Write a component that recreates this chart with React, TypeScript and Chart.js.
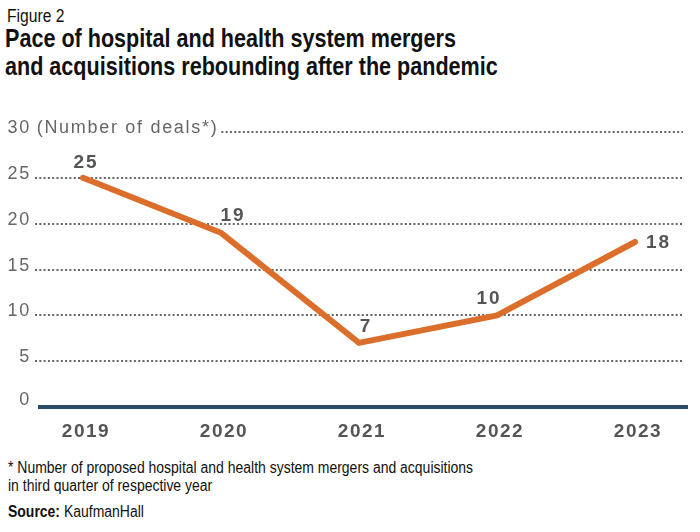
import React, { useEffect, useRef } from "react";
import { Chart, registerables } from "chart.js";

Chart.register(...registerables);

// ---- data ----
const years = ["2019", "2020", "2021", "2022", "2023"];
const deals = [25, 19, 7, 10, 18];
const yTicks = [0, 5, 10, 15, 20, 25, 30];
const yAxisNote = "(Number of deals*)";

// ---- label styling (offsets from each point, not data) ----
const labelStyle: [number, number, CanvasTextAlign][] = [
  [3, -10, "center"],
  [12, -12, "center"],
  [7, -11, "center"],
  [-8, -11, "center"],
  [11, 6, "left"],
];

const WIDE = '"Liberation Sans", Arial, Helvetica, sans-serif';

const gridPlugin = {
  id: "customGrid",
  beforeDraw(chart: any) {
    chart.ctx.letterSpacing = "1.5px";
  },
  beforeDatasetsDraw(chart: any) {
    const { ctx, scales } = chart;
    const y = scales.y;
    ctx.save();
    ctx.font = `18px ${WIDE}`;
    ctx.letterSpacing = "1.7px";
    ctx.textBaseline = "alphabetic";
    yTicks.forEach((t) => {
      const py = Math.round(y.getPixelForValue(t));
      ctx.fillStyle = "#666";
      ctx.textAlign = "right";
      const base = t === 0 ? py - 2 : py + 1;
      ctx.fillText(String(t), 31, base);
      let startX = 35;
      if (t === yTicks[yTicks.length - 1]) {
        ctx.textAlign = "left";
        const s = " " + yAxisNote;
        ctx.fillText(s, 30, base);
        startX = 30 + ctx.measureText(s).width + 3;
      }
      ctx.beginPath();
      if (t === 0) {
        ctx.setLineDash([]);
        ctx.lineWidth = 4;
        ctx.strokeStyle = "#2a4a6b";
        ctx.moveTo(38, py);
        ctx.lineTo(688, py);
      } else {
        ctx.setLineDash([2, 2.3]);
        ctx.lineWidth = 2;
        ctx.strokeStyle = "#666";
        ctx.moveTo(startX, py);
        ctx.lineTo(683, py);
      }
      ctx.stroke();
    });
    ctx.restore();
  },
  afterDatasetsDraw(chart: any) {
    const { ctx } = chart;
    const meta = chart.getDatasetMeta(0);
    ctx.save();
    ctx.font = `bold 19px ${WIDE}`;
    ctx.letterSpacing = "2px";
    ctx.fillStyle = "#555";
    ctx.textBaseline = "alphabetic";
    meta.data.forEach((pt: any, i: number) => {
      const [dx, dy, align] = labelStyle[i];
      ctx.textAlign = align;
      ctx.fillText(String(deals[i]), pt.x + dx, pt.y + dy);
    });
    ctx.restore();
  },
  afterDraw(chart: any) {
    chart.ctx.letterSpacing = "0px";
  },
};

function LineChart() {
  const ref = useRef<HTMLCanvasElement | null>(null);
  useEffect(() => {
    if (!ref.current) return;
    const chart = new Chart(ref.current, {
      type: "line",
      data: {
        labels: years,
        datasets: [
          {
            data: deals,
            borderColor: "#dc6e2c",
            borderWidth: 6,
            pointRadius: 0,
            pointHoverRadius: 0,
            tension: 0,
            borderCapStyle: "round",
            borderJoinStyle: "miter",
            clip: false as any,
          },
        ],
      },
      options: {
        animation: false,
        responsive: false,
        maintainAspectRatio: false,
        events: [],
        layout: { padding: { top: 32, left: 83, right: 65, bottom: 0 } },
        plugins: {
          legend: { display: false },
          tooltip: { enabled: false },
          title: { display: false },
        },
        scales: {
          x: {
            type: "category",
            offset: false,
            grid: { display: false, drawTicks: false },
            border: { display: false },
            ticks: {
              color: "#555",
              padding: 13,
              labelOffset: 3,
              font: { family: WIDE, size: 19, weight: "bold" },
              maxRotation: 0,
              autoSkip: false,
            },
            afterFit: (s: any) => {
              s.height = 43;
            },
          },
          y: {
            display: false,
            min: 0,
            max: 30,
          },
        },
      },
      plugins: [gridPlugin],
    });
    return () => chart.destroy();
  }, []);
  return (
    <canvas
      ref={ref}
      width={700}
      height={350}
      style={{ position: "absolute", left: 0, top: 100, width: 700, height: 350 }}
    />
  );
}

function Narrow(props: {
  top: number;
  left: number;
  size: number;
  scale: number;
  bold?: boolean;
  children: React.ReactNode;
}) {
  return (
    <div
      style={{
        position: "absolute",
        left: props.left,
        top: props.top,
        margin: 0,
        whiteSpace: "nowrap",
        fontFamily: '"Liberation Sans", Arial, sans-serif',
        fontSize: props.size,
        fontWeight: props.bold ? "bold" : "normal",
        lineHeight: 1,
        color: "#111",
        transform: `scaleX(${props.scale})`,
        transformOrigin: "left top",
      }}
    >
      {props.children}
    </div>
  );
}

export default function App() {
  return (
    <div
      style={{
        position: "absolute",
        left: 0,
        top: 0,
        width: 700,
        height: 532,
        background: "#fff",
        overflow: "hidden",
      }}
    >
      <Narrow top={7} left={7} size={18} scale={0.87}>
        Figure 2
      </Narrow>
      <Narrow top={24.5} left={5} size={26} scale={0.83} bold>
        Pace of hospital and health system mergers
      </Narrow>
      <Narrow top={53} left={5} size={26} scale={0.83} bold>
        and acquisitions rebounding after the pandemic
      </Narrow>
      <LineChart />
      <Narrow top={459.5} left={8} size={16} scale={0.873}>
        * Number of proposed hospital and health system mergers and acquisitions
      </Narrow>
      <Narrow top={477.5} left={8} size={16} scale={0.873}>
        in third quarter of respective year
      </Narrow>
      <Narrow top={503.5} left={8} size={16} scale={0.873}>
        <b>Source:</b> KaufmanHall
      </Narrow>
    </div>
  );
}
